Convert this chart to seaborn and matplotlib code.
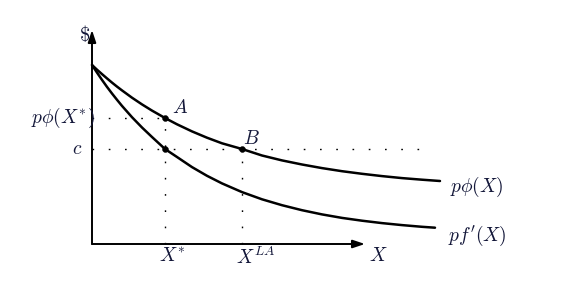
import matplotlib
matplotlib.use("Agg")
import matplotlib.pyplot as plt
import seaborn as sns
import pandas as pd

# ---- data (arbitrary units) ----
x_phi = [0, 0.5, 1.0, 1.5, 2.0, 2.5, 3.0, 4.0, 5.0, 6.0, 7.3, 8.5, 10.0, 11.5, 13.0,
         15.0, 17.0, 19.0, 21.0, 23.0, 25.0, 27.0, 29.0, 31.0, 33.0, 34.8]
y_phi = [17.9, 17.43, 16.99, 16.56, 16.14, 15.74, 15.36, 14.63, 13.96, 13.34, 12.6, 11.97,
         11.26, 10.63, 10.07, 9.5, 8.85, 8.36, 7.95, 7.59, 7.28, 7.02, 6.79, 6.59, 6.43, 6.3]
x_fp = [0, 0.5, 1.0, 1.5, 2.0, 2.5, 3.0, 4.0, 5.0, 6.0, 7.3, 8.5, 10.0, 11.5, 13.0,
        15.0, 17.0, 19.0, 21.0, 23.0, 25.0, 27.0, 29.0, 31.0, 33.0, 34.3]
y_fp = [17.9, 17.14, 16.41, 15.71, 15.05, 14.42, 13.81, 12.68, 11.65, 10.70, 9.5, 8.70,
        7.69, 6.82, 6.06, 5.19, 4.47, 3.88, 3.38, 2.96, 2.61, 2.33, 2.09, 1.89, 1.72, 1.63]
x_star = 7.3
x_la = 15.0
c_val = 9.5
phi_star = 12.6
x_axis_end = 27.3
y_axis_end = 21.4
curve_labels = [r"$p\phi(X)$", r"$pf'(X)$"]

sns.set_theme(style="white")
plt.rcParams["mathtext.fontset"] = "cm"
plt.rcParams["font.family"] = ["DejaVu Serif"]

fig = plt.figure(figsize=(5.71, 2.90), dpi=100)
ax = fig.add_axes([0, 0, 1, 1])
ax.set_xlim(-9.2, 47.9)
ax.set_ylim(-4.6, 24.4)
ax.axis("off")

txt = "#14183a"

df = pd.concat([
    pd.DataFrame({"X": x_phi, "Y": y_phi, "curve": curve_labels[0]}),
    pd.DataFrame({"X": x_fp, "Y": y_fp, "curve": curve_labels[1]}),
])
sns.lineplot(data=df, x="X", y="Y", units="curve", estimator=None, sort=False,
             color="black", lw=1.8, ax=ax, legend=False)

# axes with arrows
arrow = dict(arrowstyle="-|>,head_length=0.6,head_width=0.2", color="black",
             lw=1.4, shrinkA=0, shrinkB=0)
ax.annotate("", xy=(x_axis_end, 0), xytext=(0, 0), arrowprops=arrow)
ax.annotate("", xy=(0, y_axis_end), xytext=(0, 0), arrowprops=arrow)

dot = (0, (1.2, 10.5))
ax.plot([0, x_star], [phi_star, phi_star], color="black", lw=1, ls=dot)
ax.plot([0, 33.0], [c_val, c_val], color="black", lw=1, ls=dot)
ax.plot([x_star, x_star], [0, phi_star], color="black", lw=1, ls=dot)
ax.plot([x_la, x_la], [0, c_val], color="black", lw=1, ls=dot)

pts = pd.DataFrame({"X": [x_star, x_la, x_star], "Y": [phi_star, c_val, c_val]})
sns.scatterplot(data=pts, x="X", y="Y", color="black", s=18, edgecolor="black", ax=ax, zorder=5)

fs = 14
ax.text(-0.2, y_axis_end - 0.4, r"$\$$", ha="right", va="center", fontsize=fs + 1, color=txt)
ax.text(0.3, phi_star, r"$p\phi(X^{*})$", ha="right", va="center", fontsize=fs, color=txt)
ax.text(-1.0, c_val, r"$c$", ha="right", va="center", fontsize=fs, color=txt)
ax.text(x_star + 0.7, phi_star + 0.1, r"$A$", ha="left", va="bottom", fontsize=fs, color=txt)
ax.text(x_la + 0.1, c_val + 0.1, r"$B$", ha="left", va="bottom", fontsize=fs, color=txt)
ax.text(x_star + 0.7, -0.3, r"$X^{*}$", ha="center", va="top", fontsize=fs, color=txt)
ax.text(x_la + 1.4, -0.3, r"$X^{LA}$", ha="center", va="top", fontsize=fs, color=txt)
ax.text(x_axis_end + 0.4, -0.3, r"$X$", ha="left", va="top", fontsize=fs, color=txt)
ax.text(x_phi[-1] + 1.0, y_phi[-1] - 0.6, curve_labels[0], ha="left", va="center", fontsize=fs, color=txt)
ax.text(x_fp[-1] + 1.3, y_fp[-1] - 0.8, curve_labels[1], ha="left", va="center", fontsize=fs, color=txt)

fig.savefig("out.png", dpi=100)
